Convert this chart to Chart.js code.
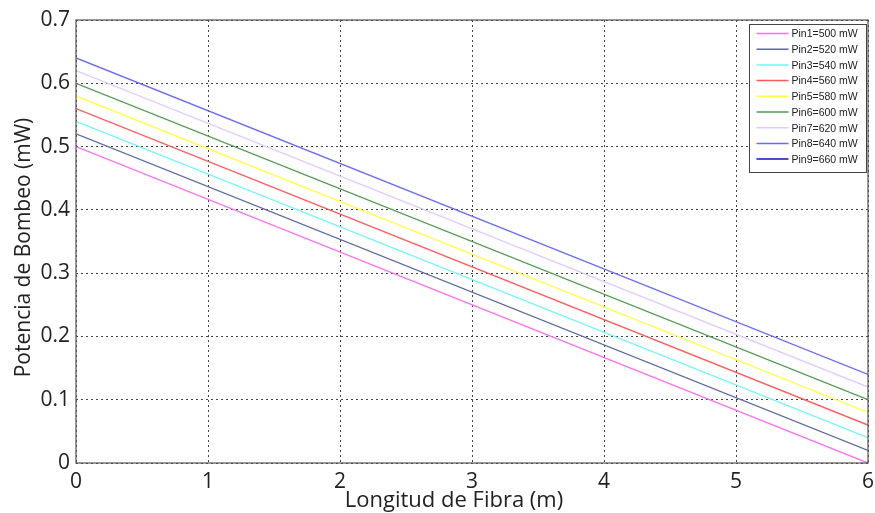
<!DOCTYPE html>
<html lang="es">
<head>
    <meta charset="UTF-8">
    <title>Potencia de Bombeo</title>
    <script src="https://cdn.jsdelivr.net/npm/chart.js"></script>
    <style>
        body { margin: 0; background: #fff; }
        #wrap { width: 875px; height: 513px; }
    </style>
</head>
<body>
    <div id="wrap"><canvas id="grafico" width="875" height="513"></canvas></div>

    <script>
        // longitud de fibra (m): extremos de cada recta
        const longitud = [0, 6];

        const etiquetas = ['Pin1=500 mW', 'Pin2=520 mW', 'Pin3=540 mW', 'Pin4=560 mW', 'Pin5=580 mW',
                           'Pin6=600 mW', 'Pin7=620 mW', 'Pin8=640 mW', 'Pin9=660 mW'];

        const pin1 = [0.50, 0.00];
        const pin2 = [0.52, 0.02];
        const pin3 = [0.54, 0.04];
        const pin4 = [0.56, 0.06];
        const pin5 = [0.58, 0.08];
        const pin6 = [0.60, 0.10];
        const pin7 = [0.62, 0.12];
        const pin8 = [0.64, 0.14];
        const pin9 = [null, null]; // no se ve en la grafica, solo en la leyenda

        const colores = ['#ff6cf5', '#5d6aa6', '#6cf7f7', '#ff5a5a', '#ffff48',
                         '#4f9a4f', '#e2cbff', '#6a6aff', '#1010c8'];

        const tituloX = 'Longitud de Fibra (m)';
        const tituloY = 'Potencia de Bombeo (mW)';

        const series = [pin1, pin2, pin3, pin4, pin5, pin6, pin7, pin8, pin9];

        const datasets = series.map((s, i) => ({
            label: etiquetas[i],
            data: s.map((v, j) => ({ x: longitud[j], y: v })),
            borderColor: colores[i],
            backgroundColor: colores[i],
            borderWidth: 1.3,
            pointRadius: 0,
            fill: false
        }));

        // marco, titulos de ejes y leyenda dentro del area (estilo matlab)
        const marco = {
            id: 'marco',
            afterDraw(chart) {
                const ctx = chart.ctx;
                const a = chart.chartArea;
                ctx.save();
                ctx.strokeStyle = '#555';
                ctx.lineWidth = 1.2;
                ctx.strokeRect(a.left, a.top, a.right - a.left, a.bottom - a.top);

                // titulos de los ejes
                ctx.fillStyle = '#222';
                ctx.font = '22px "Open Sans"';
                ctx.textAlign = 'center';
                ctx.textBaseline = 'middle';
                ctx.fillText(tituloX, (a.left + a.right) / 2 - 18, a.bottom + 38);
                ctx.save();
                ctx.translate(a.left - 52, (a.top + a.bottom) / 2 + 6);
                ctx.rotate(-Math.PI / 2);
                ctx.font = '21px "Open Sans"';
                ctx.fillText(tituloY, 0, 0);
                ctx.restore();

                // leyenda
                const w = 117, h = 148;
                const x0 = Math.round(a.right - w - 2) + 0.5;
                const y0 = Math.round(a.top + 4) + 0.5;
                ctx.fillStyle = '#fff';
                ctx.fillRect(x0, y0, w, h);
                ctx.strokeStyle = '#444';
                ctx.lineWidth = 1;
                ctx.strokeRect(x0, y0, w, h);
                ctx.font = '10.5px Arial';
                ctx.textAlign = 'left';
                ctx.textBaseline = 'middle';
                chart.data.datasets.forEach((ds, i) => {
                    const y = y0 + 9 + i * 15.7;
                    ctx.strokeStyle = ds.borderColor;
                    ctx.lineWidth = 1.5;
                    ctx.beginPath();
                    ctx.moveTo(x0 + 7, y);
                    ctx.lineTo(x0 + 39, y);
                    ctx.stroke();
                    ctx.fillStyle = '#222';
                    ctx.fillText(ds.label, x0 + 42, y + 1);
                });
                ctx.restore();
            }
        };

        new Chart(document.getElementById('grafico').getContext('2d'), {
            type: 'line',
            data: { datasets: datasets },
            plugins: [marco],
            options: {
                responsive: false,
                animation: false,
                layout: { padding: { left: 0, top: 20, right: 0, bottom: 0 } },
                plugins: {
                    legend: { display: false },
                    tooltip: { enabled: false }
                },
                scales: {
                    x: {
                        type: 'linear',
                        min: 0,
                        max: 6,
                        afterFit: s => { s.height = 50; s.paddingRight = 7; },
                        ticks: {
                            stepSize: 1,
                            padding: 6,
                            color: '#222',
                            font: { family: 'Open Sans', size: 21 }
                        },
                        grid: { color: '#444', drawTicks: false },
                        border: { display: false, dash: [2, 3] }
                    },
                    y: {
                        min: 0,
                        max: 0.7,
                        afterFit: s => { s.width = 76; },
                        ticks: {
                            stepSize: 0.1,
                            padding: 6,
                            color: '#222',
                            font: { family: 'Open Sans', size: 21 },
                            callback: v => (Math.round(v * 10) / 10).toString()
                        },
                        grid: { color: '#444', drawTicks: false },
                        border: { display: false, dash: [2, 3] }
                    }
                }
            }
        });
    </script>
</body>
</html>
